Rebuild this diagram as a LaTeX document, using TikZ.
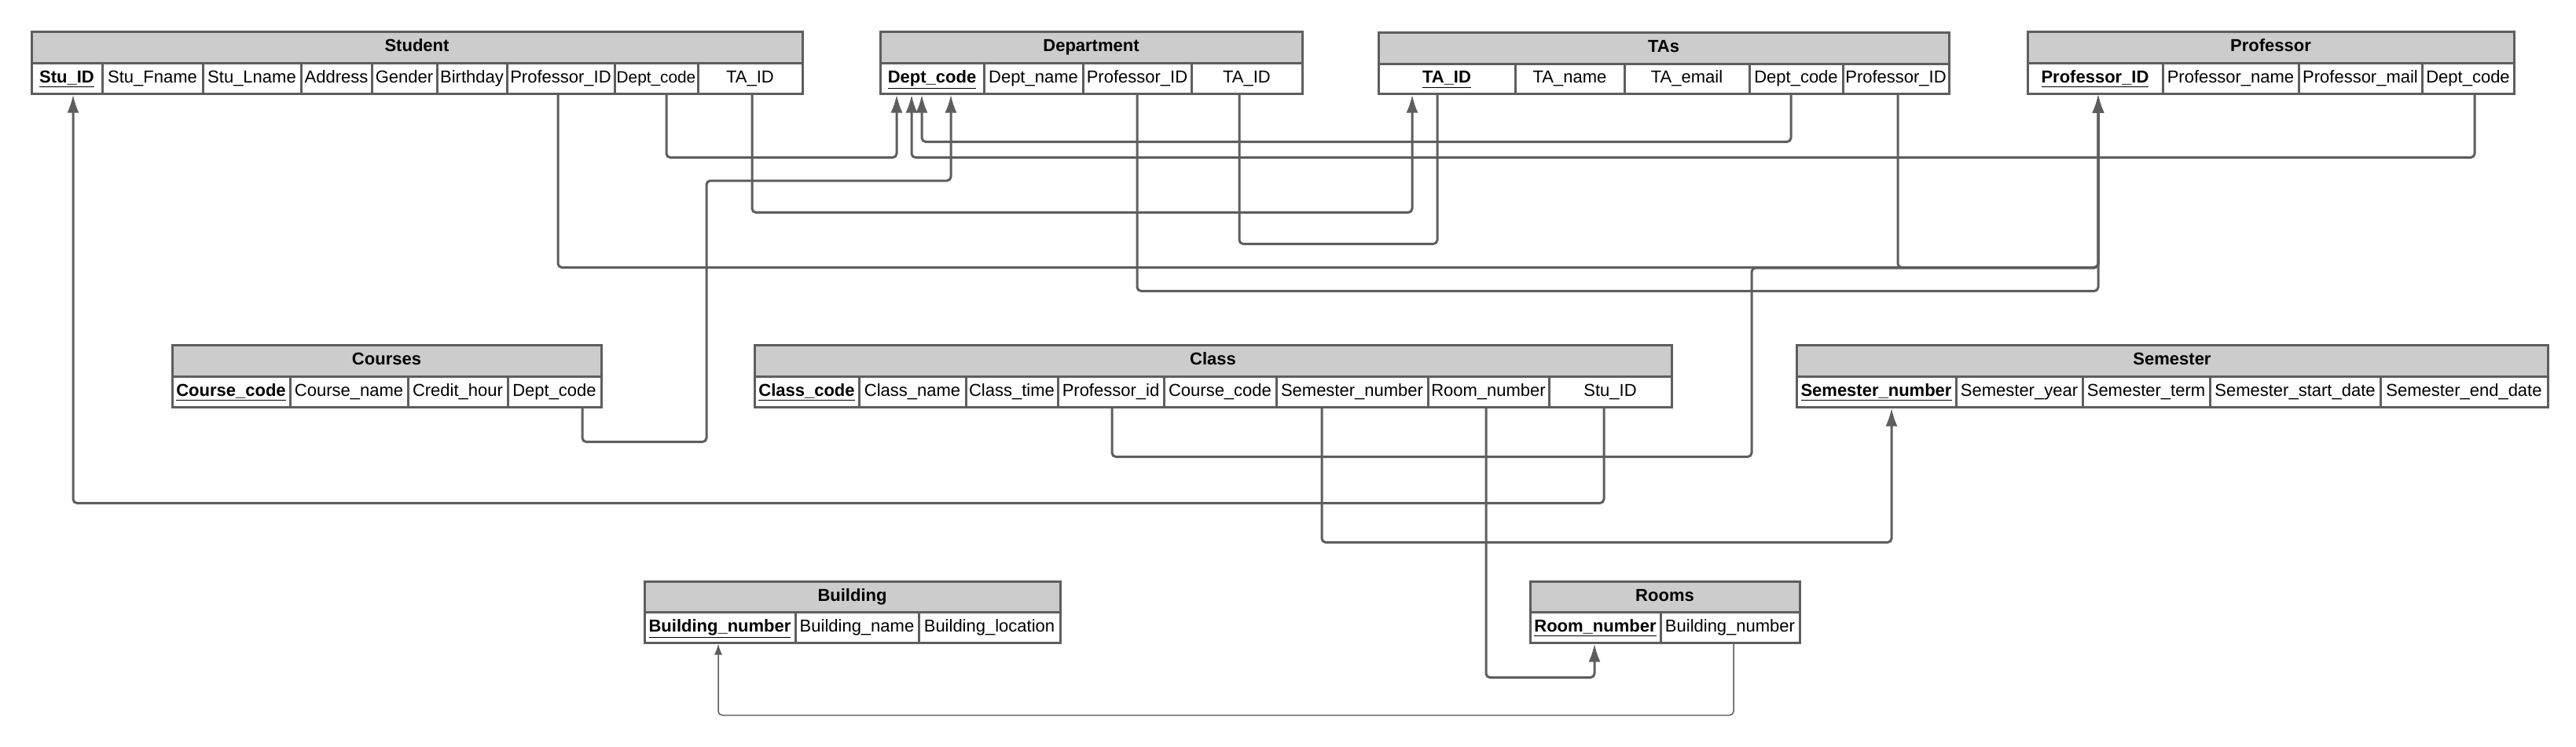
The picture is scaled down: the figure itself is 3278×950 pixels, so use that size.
\documentclass[tikz,border=0pt]{standalone}
\usepackage{fontspec}
\setmainfont{Liberation Sans}
\usetikzlibrary{arrows.meta}
\definecolor{lg}{RGB}{94,94,94}
\definecolor{hg}{RGB}{204,204,204}
\newcommand\keyattr[1]{\underline{\textbf{#1}}}
\newcommand\hcell[6]{\node[hdr, minimum width={(#3-#2)*0.5pt}, minimum height={(#5-#4)*0.5pt}] (#1) at ({(#2+#3)/2},{(#4+#5)/2}) {#6};}
\newcommand\rcell[6]{\node[fcell, minimum width={(#3-#2)*0.5pt}, minimum height={(#5-#4)*0.5pt}] (#1) at ({(#2+#3)/2},{(#4+#5)/2}) {#6};}
\tikzset{
  hdr/.style={draw=lg, fill=hg, line width=1.5pt, inner sep=0pt, font=\fontsize{11}{13}\selectfont\bfseries, text height=8pt, text depth=2.5pt},
  fcell/.style={draw=lg, fill=white, line width=1.5pt, inner sep=0pt, font=\fontsize{11}{13}\selectfont, text height=8pt, text depth=2.5pt},
  conn/.style={draw=lg, line width=1.5pt, rounded corners=2.5pt},
  arr/.style={-{Latex[length=11.5pt,width=7.5pt]}},
  thinconn/.style={draw=lg, line width=0.75pt, rounded corners=2.5pt, -{Latex[length=7pt,width=5pt]}}
}
\begin{document}
\begin{tikzpicture}[x=0.5pt,y=-0.5pt]
\useasboundingbox (0,0) rectangle (3278,950);
% Student
\hcell{student}{40}{1021}{40}{80}{Student}
\rcell{stu1}{40}{130}{80}{119}{\keyattr{Stu\_ID}}
\rcell{stu2}{130}{258}{80}{119}{Stu\_Fname}
\rcell{stu3}{258}{383}{80}{119}{Stu\_Lname}
\rcell{stu4}{383}{473}{80}{119}{Address}
\rcell{stu5}{473}{556}{80}{119}{Gender}
\rcell{stu6}{556}{645}{80}{119}{Birthday}
\rcell{stu7}{645}{782}{80}{119}{Professor\_ID}
\rcell{stu8}{782}{888}{80}{119}{\fontsize{10.4}{13}\selectfont Dept\_code}
\rcell{stu9}{888}{1021}{80}{119}{TA\_ID}
% Department
\hcell{department}{1120}{1657}{40}{80}{Department}
\rcell{dep1}{1120}{1252}{80}{119}{\keyattr{Dept\_code}}
\rcell{dep2}{1252}{1378}{80}{119}{Dept\_name}
\rcell{dep3}{1378}{1516}{80}{119}{Professor\_ID}
\rcell{dep4}{1516}{1657}{80}{119}{TA\_ID}
% TAs
\hcell{tas}{1754}{2480}{41}{81}{TAs}
\rcell{ta1}{1754}{1928}{81}{119}{\keyattr{TA\_ID}}
\rcell{ta2}{1928}{2067}{81}{119}{TA\_name}
\rcell{ta3}{2067}{2226}{81}{119}{TA\_email}
\rcell{ta4}{2226}{2345}{81}{119}{Dept\_code}
\rcell{ta5}{2345}{2480}{81}{119}{Professor\_ID}
% Professor
\hcell{professor}{2580}{3199}{40}{80}{Professor}
\rcell{pr1}{2580}{2752}{80}{119}{\keyattr{Professor\_ID}}
\rcell{pr2}{2752}{2925}{80}{119}{Professor\_name}
\rcell{pr3}{2925}{3082}{80}{119}{Professor\_mail}
\rcell{pr4}{3082}{3199}{80}{119}{Dept\_code}
% Courses
\hcell{courses}{219}{765}{439}{479}{Courses}
\rcell{co1}{219}{369}{479}{518}{\keyattr{Course\_code}}
\rcell{co2}{369}{519}{479}{518}{Course\_name}
\rcell{co3}{519}{646}{479}{518}{Credit\_hour}
\rcell{co4}{646}{765}{479}{518}{Dept\_code}
% Class
\hcell{class}{960}{2127}{439}{479}{Class}
\rcell{cl1}{960}{1093}{479}{518}{\keyattr{Class\_code}}
\rcell{cl2}{1093}{1229}{479}{518}{Class\_name}
\rcell{cl3}{1229}{1346}{479}{518}{Class\_time}
\rcell{cl4}{1346}{1481}{479}{518}{Professor\_id}
\rcell{cl5}{1481}{1624}{479}{518}{Course\_code}
\rcell{cl6}{1624}{1817}{479}{518}{Semester\_number}
\rcell{cl7}{1817}{1971}{479}{518}{Room\_number}
\rcell{cl8}{1971}{2127}{479}{518}{Stu\_ID}
% Semester
\hcell{semester}{2286}{3242}{439}{479}{Semester}
\rcell{se1}{2286}{2489}{479}{518}{\keyattr{Semester\_number}}
\rcell{se2}{2489}{2650}{479}{518}{Semester\_year}
\rcell{se3}{2650}{2812}{479}{518}{Semester\_term}
\rcell{se4}{2812}{3029}{479}{518}{Semester\_start\_date}
\rcell{se5}{3029}{3242}{479}{518}{Semester\_end\_date}
% Building
\hcell{building}{820}{1349}{740}{779}{Building}
\rcell{bu1}{820}{1012}{779}{818}{\keyattr{Building\_number}}
\rcell{bu2}{1012}{1169}{779}{818}{Building\_name}
\rcell{bu3}{1169}{1349}{779}{818}{Building\_location}
% Rooms
\hcell{rooms}{1947}{2290}{740}{779}{Rooms}
\rcell{ro1}{1947}{2113}{779}{818}{\keyattr{Room\_number}}
\rcell{ro2}{2113}{2290}{779}{818}{Building\_number}
% connectors
\draw[conn,arr] ([xshift=6.5pt]stu8.south) -- ++(0,80) -| ([xshift=-22.5pt]dep1.south);
\draw[conn,arr] ([xshift=4.25pt]pr4.south) -- ++(0,80) -| ([xshift=-13pt]dep1.south);
\draw[conn,arr] ([xshift=-3.25pt]ta4.south) -- ++(0,60) -| ([xshift=-6.5pt]dep1.south);
\coordinate (cbend) at (899,230);
\draw[conn,arr] ([xshift=17.75pt]co4.south) -- ++(0,43) -| (cbend) -| ([xshift=12pt]dep1.south);
\draw[conn,arr] ([xshift=1.25pt]stu9.south) -- ++(0,150) -| ([xshift=-22pt]ta1.south);
\draw[conn] ([xshift=-4.75pt]dep4.south) -- ++(0,190) -| ([xshift=-6pt]ta1.south);
\draw[conn,arr] ([xshift=-1.75pt]stu7.south) -- ++(0,220) -| ([xshift=2pt]pr1.south);
\draw[conn,arr] ([xshift=1.25pt]ta5.south) -- ++(0,220) -| ([xshift=2pt]pr1.south);
\coordinate (pbend) at (2229,341);
\draw[conn,arr] ([xshift=0.75pt]cl4.south) -- ++(0,62) -| (pbend) -| ([xshift=2pt]pr1.south);
\draw[conn,arr] (dep3.south) -- ++(0,250) -| ([xshift=2pt]pr1.south);
\draw[conn,arr] ([xshift=-4pt]cl8.south) -- ++(0,121) -| ([xshift=4pt]stu1.south);
\draw[conn,arr] ([xshift=-19.25pt]cl6.south) -- ++(0,171) -| ([xshift=9.75pt]se1.south);
\draw[conn,arr] ([xshift=-1.5pt]cl7.south) -- ++(0,343) -| ([xshift=-0.5pt]ro1.south);
\draw[thinconn] ([xshift=2.25pt]ro2.south) -- ++(0,91) -| ([xshift=-1pt]bu1.south);
\end{tikzpicture}
\end{document}
